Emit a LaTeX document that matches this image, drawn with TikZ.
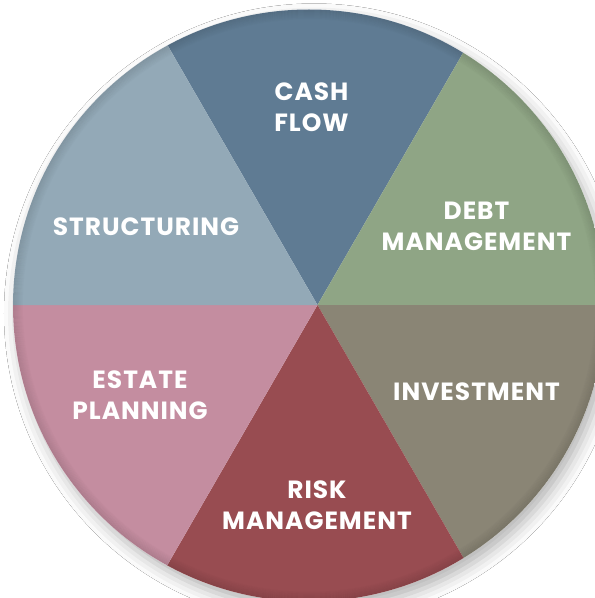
\documentclass[tikz,border=0pt]{standalone}
\usepackage{fontspec}
\setmainfont{Poppins}[LetterSpace=4]
\usetikzlibrary{calc,shadows.blur}

\definecolor{cashflow}{HTML}{5F7B93}
\definecolor{debtmgmt}{HTML}{8FA585}
\definecolor{investment}{HTML}{8A8575}
\definecolor{riskmgmt}{HTML}{984C51}
\definecolor{estate}{HTML}{C48DA0}
\definecolor{structuring}{HTML}{93A9B7}

\begin{document}
\begin{tikzpicture}[x=1bp,y=-1bp,
  wedgetext/.style={text=white, font=\fontsize{25}{31}\selectfont\bfseries,
    align=center, inner sep=0pt}]
\useasboundingbox (0,0) rectangle (595,598);
\fill[white] (0,0) rectangle (595,598);

% centre of the disc and the common tip of the six wedges
\coordinate (O) at (309,305.5);
\coordinate (V) at (317.5,305);
\def\R{296}

% far ends of the six dividing rays
\coordinate (A0)   at ($(V)+(400,0)$);
\coordinate (A60)  at ($(V)+(200,-346.4)$);
\coordinate (A120) at ($(V)+(-200,-346.4)$);
\coordinate (A180) at ($(V)+(-400,0)$);
\coordinate (A240) at ($(V)+(-200,346.4)$);
\coordinate (A300) at ($(V)+(200,346.4)$);

% soft drop shadow under the disc
\fill[white, blur shadow={shadow xshift=5bp, shadow yshift=-8bp,
  shadow blur radius=14bp, shadow opacity=30}] (O) circle[radius=\R];

\begin{scope}
  \clip (O) circle[radius=\R];
  \fill[cashflow]    (V) -- (A60)  -- (A120) -- cycle;
  \fill[debtmgmt]    (V) -- (A0)   -- (A60)  -- cycle;
  \fill[investment]  (V) -- (A300) -- (A0)   -- cycle;
  \fill[riskmgmt]    (V) -- (A240) -- (A300) -- cycle;
  \fill[estate]      (V) -- (A180) -- (A240) -- cycle;
  \fill[structuring] (V) -- (A120) -- (A180) -- cycle;
  % slightly darkened rim
  \foreach \i in {0,...,9} {
    \pgfmathsetmacro\op{0.009*(10-\i)}
    \pgfmathsetmacro\rr{\R-\i-0.5}
    \draw[black, opacity=\op, line width=1.1bp] (O) circle[radius=\rr];
  }
\end{scope}

\node[wedgetext] (cash)   at (311.5,107)  {CASH\\FLOW};
\node[wedgetext] (debt)   at (476.5,226)  {DEBT\\MANAGEMENT};
\node[wedgetext] (invest) at (476.5,391.5){INVESTMENT};
\node[wedgetext] (risk)   at (317,505)    {RISK\\MANAGEMENT};
\node[wedgetext] (estate) at (140,395)    {ESTATE\\PLANNING};
\node[wedgetext] (struct) at (146,227)    {STRUCTURING};
\end{tikzpicture}
\end{document}
